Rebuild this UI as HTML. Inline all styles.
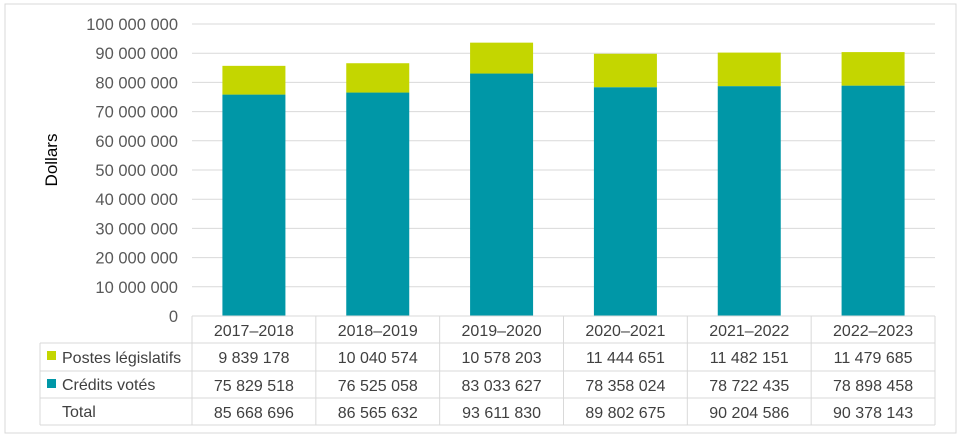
<!DOCTYPE html>
<html><head><meta charset="utf-8"><style>
body{margin:0;background:#fff;font-family:"Liberation Sans",sans-serif;}
svg{display:block}
</style></head><body>
<svg width="961" height="439" xmlns="http://www.w3.org/2000/svg">
<rect x="5" y="4" width="951" height="429" fill="#fff" stroke="#d9d9d9"/>
<g id="grid"></g><g id="bars"></g><g id="table"></g>
<text x="57" y="160" transform="rotate(-90 57 160)" text-anchor="middle" font-size="17" fill="#000">Dollars</text>
</svg>
<script>
const years=["2017–2018","2018–2019","2019–2020","2020–2021","2021–2022","2022–2023"];
const postes=[9839178,10040574,10578203,11444651,11482151,11479685];
const credits=[75829518,76525058,83033627,78358024,78722435,78898458];
const totals=[85668696,86565632,93611830,89802675,90204586,90378143];
const ticks=[0,10000000,20000000,30000000,40000000,50000000,60000000,70000000,80000000,90000000,100000000];
const NS="http://www.w3.org/2000/svg";
const L=192,R=935,Y0=316,Y1=24,MAX=100000000;
const cw=(R-L)/years.length;
const y=v=>Y0-(v/MAX)*(Y0-Y1);
const fmt=n=>n.toString().replace(/\B(?=(\d{3})+(?!\d))/g," ");
function mk(t,a,p){const e=document.createElementNS(NS,t);for(const k in a)e.setAttribute(k,a[k]);p.appendChild(e);return e;}
const g=document.getElementById('grid'),b=document.getElementById('bars'),tb=document.getElementById('table');
ticks.forEach(t=>{
 if(t>0){const l=mk('line',{x1:L,x2:R,y1:y(t),y2:y(t),stroke:'#d9d9d9'},g);
 
 }
 const tx=mk('text',{x:178,y:y(t)+6,'text-anchor':'end','font-size':'16.5',fill:'#595959'},g);tx.textContent=fmt(t);
 
 
});
years.forEach((yr,i)=>{
 const cx=L+cw*(i+0.5),w=63;
 const r1=mk('rect',{x:cx-w/2,y:y(credits[i]),width:w,height:Y0-y(credits[i]),fill:'#0097a7'},b);
 
 
 const r2=mk('rect',{x:cx-w/2,y:y(credits[i]+postes[i]),width:w,height:y(credits[i])-y(credits[i]+postes[i]),fill:'#c4d600'},b);
 
 
});
const st={stroke:'#d9d9d9','stroke-width':1};
mk('line',Object.assign({x1:L,x2:R,y1:316,y2:316},st),tb);
[343,371,398,425].forEach(yy=>mk('line',Object.assign({x1:40,x2:R,y1:yy,y2:yy},st),tb));
mk('line',Object.assign({x1:40,x2:40,y1:343,y2:425},st),tb);
for(let i=0;i<=years.length;i++){const x=L+cw*i;mk('line',Object.assign({x1:x,x2:x,y1:316,y2:425},st),tb);}
function txt(s,x,yy,anchor,name){const t=mk('text',{x:x,y:yy,'text-anchor':anchor,'font-size':'16',fill:'#404040'},tb);t.textContent=s;
 
 }
years.forEach((yr,i)=>{const cx=L+cw*(i+0.5);
 txt(yr,cx,336,'middle','x-category-label');
 txt(fmt(postes[i]),cx,363,'middle','postes-value');
 txt(fmt(credits[i]),cx,391,'middle','credits-value');
 txt(fmt(totals[i]),cx,418,'middle','total-value');
});
const k1=mk('rect',{x:47,y:351,width:9,height:9,fill:'#c4d600'},tb);


const k2=mk('rect',{x:47,y:379,width:9,height:9,fill:'#0097a7'},tb);


txt('Postes législatifs',62,363,'start','legend-postes-legislatifs');
txt('Crédits votés',62,390,'start','legend-credits-votes');
txt('Total',62,417,'start','total-row-label');
</script>
</body></html>
